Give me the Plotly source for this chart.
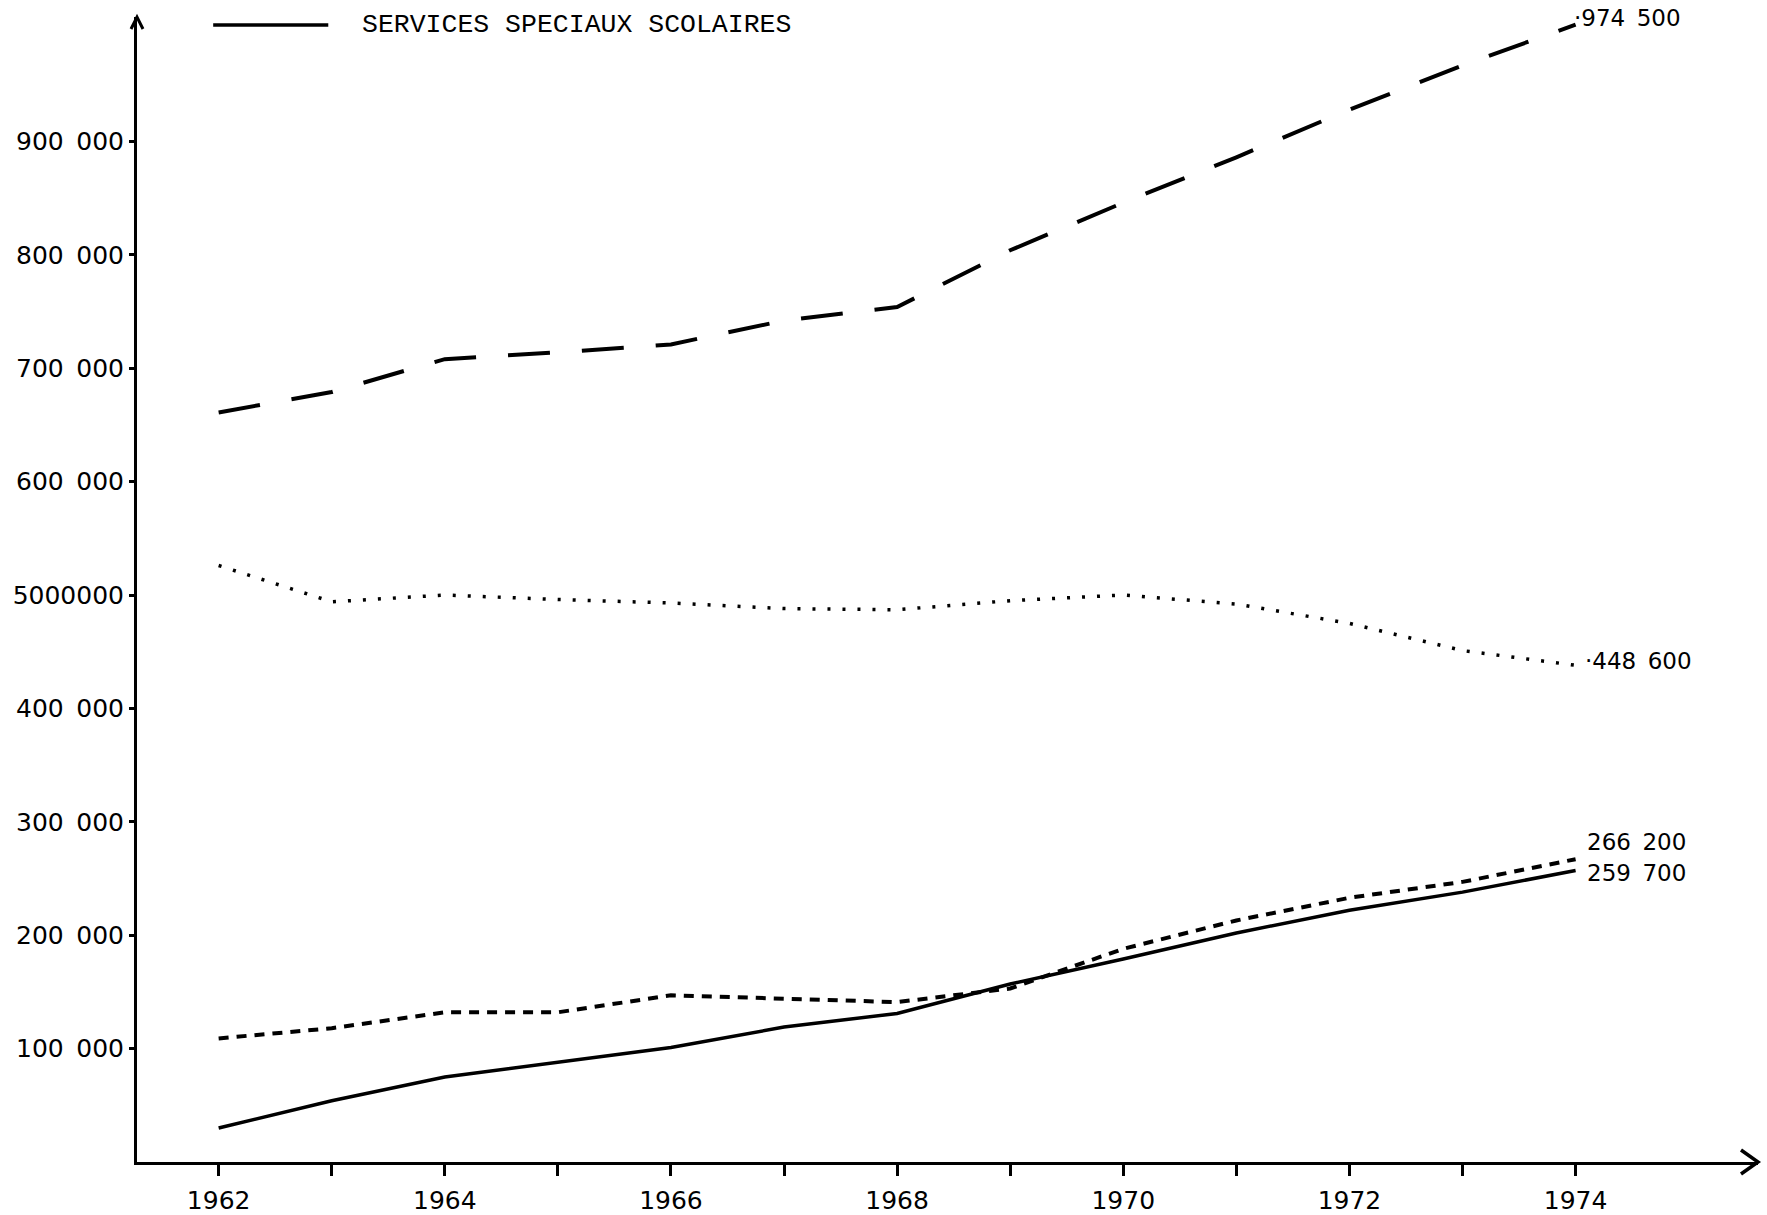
import plotly.graph_objects as go

years = [1962, 1963, 1964, 1965, 1966, 1967, 1968, 1969, 1970, 1971, 1972, 1973, 1974]

# Services spéciaux scolaires (solid)
solid_vals = [30000, 54000, 75000, 88000, 101000, 119000, 131000, 157000, 179000, 202000, 222000, 238000, 257000]
# short dashes
short_dash_vals = [109000, 118000, 132000, 132000, 147000, 144000, 141000, 153000, 188000, 213000, 233000, 247000, 267000]
# dotted
dotted_vals = [526000, 494000, 500000, 496000, 493000, 488000, 487000, 495000, 500000, 492000, 475000, 451000, 438000]
# long dashes
long_dash_vals = [661000, 679000, 708000, 714000, 721000, 742000, 754000, 804000, 846000, 886000, 928000, 967000, 1003000]

SP = "\u2002"
y_tickvals = [100000, 200000, 300000, 400000, 500000, 600000, 700000, 800000, 900000]
y_ticktext = ["100" + SP + "000", "200" + SP + "000", "300" + SP + "000", "400" + SP + "000", "5000000",
              "600" + SP + "000", "700" + SP + "000", "800" + SP + "000", "900" + SP + "000"]
x_tickvals = years
x_ticktext = [str(y) if y % 2 == 0 else "" for y in years]

legend_label = "SERVICES SPECIAUX SCOLAIRES"
end_labels = ["·974" + SP + "500", "·448" + SP + "600", "266" + SP + "200", "259" + SP + "700"]

num_font = "DejaVu Sans"

fig = go.Figure()
fig.add_trace(go.Scatter(x=years, y=long_dash_vals, mode="lines",
                         line=dict(color="black", width=4, dash="42px,32px"), showlegend=False))
fig.add_trace(go.Scatter(x=years, y=dotted_vals, mode="lines",
                         line=dict(color="black", width=3.5, dash="3px,12px"), showlegend=False))
fig.add_trace(go.Scatter(x=years, y=short_dash_vals, mode="lines",
                         line=dict(color="black", width=4, dash="10px,8px"), showlegend=False))
fig.add_trace(go.Scatter(x=years, y=solid_vals, mode="lines",
                         line=dict(color="black", width=3.5), showlegend=False))

# end labels
label_specs = [
    (long_dash_vals[-1], end_labels[0], -4, 7),
    (dotted_vals[-1], end_labels[1], 7, 4),
    (short_dash_vals[-1], end_labels[2], 9, 17),
    (solid_vals[-1], end_labels[3], 9, -2),
]
for val, txt, xs, ys in label_specs:
    fig.add_annotation(x=years[-1], y=val, text=txt, showarrow=False,
                       xanchor="left", yanchor="middle", xshift=xs, yshift=ys,
                       font=dict(family=num_font, size=23, color="black"))

# legend (line sample + text)
fig.add_shape(type="line", xref="paper", yref="paper", x0=0.047, x1=0.118, y0=0.993, y1=0.993,
              line=dict(color="black", width=3.5))
fig.add_annotation(xref="paper", yref="paper", x=0.1375, y=0.993, text=legend_label,
                   showarrow=False, xanchor="left", yanchor="middle",
                   font=dict(family="Liberation Mono", size=26.5, color="black"))

# arrowheads
fig.add_shape(type="path", xref="paper", yref="paper", xsizemode="pixel", ysizemode="pixel",
              xanchor=0, yanchor=1, path="M -6 -12 L 0 0 L 6 -12",
              line=dict(color="black", width=3))
fig.add_shape(type="path", xref="paper", yref="paper", xsizemode="pixel", ysizemode="pixel",
              xanchor=1, yanchor=0, path="M -17 12 L 0 0 L -17 -12",
              line=dict(color="black", width=3.5))

fig.update_layout(
    width=1767, height=1215,
    margin=dict(l=137, r=9, t=17, b=53, autoexpand=False),
    paper_bgcolor="white", plot_bgcolor="white",
    xaxis=dict(range=[1961.278, 1975.613], showgrid=False, zeroline=False, automargin=False,
               showline=True, linecolor="black", linewidth=3,
               tickmode="array", tickvals=x_tickvals, ticktext=x_ticktext,
               ticks="outside", ticklen=11, tickwidth=2.5, tickcolor="black",
               ticklabelstandoff=3,
               tickfont=dict(family=num_font, size=25, color="black")),
    yaxis=dict(range=[0, 1009700], showgrid=False, zeroline=False, automargin=False,
               showline=True, linecolor="black", linewidth=3,
               tickmode="array", tickvals=y_tickvals, ticktext=y_ticktext,
               ticks="outside", ticklen=5, tickwidth=2.5, tickcolor="black",
               tickfont=dict(family=num_font, size=25, color="black")),
)

fig.write_html("out.html", config={"displayModeBar": False},
               post_script="document.body.style.margin='0px';")
